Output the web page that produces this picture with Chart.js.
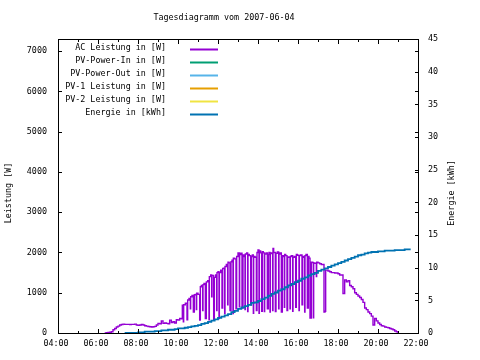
<!DOCTYPE html>
<html><head><meta charset="utf-8">
<script src="https://cdn.jsdelivr.net/npm/chart.js@4"></script>
<style>html,body{margin:0;padding:0;background:#fff}canvas{display:block}</style>
</head><body>
<canvas id="c" width="480" height="360"></canvas>
<script>
const chartTitle = 'Tagesdiagramm vom 2007-06-04';
const leftAxisTitle = 'Leistung [W]';
const rightAxisTitle = 'Energie [kWh]';
const seriesLabels = ['AC Leistung in [W]', 'PV-Power-In in [W]', 'PV-Power-Out in [W]', 'PV-1 Leistung in [W]', 'PV-2 Leistung in [W]', 'Energie in [kWh]'];
const seriesColors = ['#9400d3', '#009e73', '#56b4e9', '#e69f00', '#f0e442', '#0072b2'];
const xTickHours = [4, 6, 8, 10, 12, 14, 16, 18, 20, 22];
const xTickLabels = ['04:00', '06:00', '08:00', '10:00', '12:00', '14:00', '16:00', '18:00', '20:00', '22:00'];
const yTicks = [0, 1000, 2000, 3000, 4000, 5000, 6000, 7000];
const y2Ticks = [0, 5, 10, 15, 20, 25, 30, 35, 40, 45];

// AC power samples (time of day, watts)
const acTimes = [
'06:20','06:25','06:30','06:35','06:40','06:45','06:50','06:55',
'07:00','07:05','07:10','07:15','07:20','07:25','07:30','07:35','07:40','07:45','07:50','07:55',
'08:00','08:05','08:10','08:15','08:20','08:25','08:30','08:35','08:40','08:45','08:50','08:55',
'09:00','09:05','09:10','09:15','09:20','09:25','09:30','09:35','09:40','09:45','09:50','09:55',
'10:00','10:05','10:10','10:13','10:16','10:17','10:22','10:27','10:29','10:33','10:37','10:38','10:42','10:46','10:49','10:52','10:55','10:56',
'11:00','11:05','11:07','11:10','11:14','11:15','11:18','11:22','11:25','11:29','11:33','11:34','11:38','11:41','11:42','11:47','11:49','11:53','11:56','11:57',
'12:00','12:03','12:04','12:08','12:12','12:14','12:17','12:20','12:21','12:25','12:29','12:30','12:33','12:36','12:39','12:42','12:45','12:46','12:50','12:54','12:56',
'13:00','13:04','13:05','13:08','13:12','13:15','13:18','13:21','13:22','13:26','13:29','13:30','13:34','13:38','13:40','13:43','13:46','13:47','13:51','13:55','13:57',
'14:00','14:03','14:04','14:08','14:11','14:13','14:16','14:19','14:20','14:24','14:28','14:31','14:33','14:36','14:37','14:41','14:44','14:45','14:47','14:52','14:54','14:58',
'15:02','15:03','15:06','15:10','15:13','15:16','15:19','15:20','15:23','15:27','15:29','15:32','15:36','15:37','15:40','15:44','15:45','15:49','15:53','15:55','15:58',
'16:03','16:04','16:08','16:12','16:14','16:17','16:20','16:21','16:24','16:28','16:31','16:33','16:36','16:40','16:43','16:46','16:47','16:51','16:55','16:56',
'17:00','17:05','17:10','17:15','17:18','17:21','17:23','17:25','17:30','17:35','17:40','17:45','17:50','17:55',
'18:00','18:05','18:10','18:15','18:20','18:25','18:30','18:35','18:40','18:45','18:50','18:55',
'19:00','19:05','19:10','19:15','19:20','19:25','19:30','19:35','19:40','19:45','19:50','19:55',
'20:00','20:05','20:10','20:15','20:20','20:25','20:30','20:35','20:40','20:45','20:50','20:55',
'21:00'];
const acPower = [
0, 10, 15, 20, 30, 80, 110, 150,
170, 200, 210, 220, 215, 215, 215, 210, 215, 215, 220, 200,
190, 200, 215, 200, 180, 170, 160, 155, 150, 155, 165, 200,
240, 230, 300, 240, 250, 240, 230, 320, 260, 280, 250, 330,
320, 360, 350, 690, 280, 700, 740, 330, 820, 860, 600, 900, 930, 520, 950, 960, 580, 990,
960, 320, 1150, 1180, 560, 1200, 1230, 360, 1270, 1300, 330, 1400, 1440, 900, 1430, 330, 1380, 1440, 560, 1500,
1520, 360, 1500, 1560, 620, 1600, 1610, 480, 1650, 1700, 700, 1760, 1740, 560, 1770, 1810, 480, 1860, 1840, 600, 1900,
1990, 650, 1950, 1980, 620, 1940, 1900, 580, 1960, 1990, 530, 1950, 1920, 700, 1900, 1940, 490, 1900, 1880, 560, 2000,
2060, 490, 2040, 1990, 540, 2020, 1990, 530, 1960, 1990, 600, 1950, 2000, 520, 1990, 1970, 560, 2100, 2000, 530, 1980, 2010,
600, 1960, 1990, 520, 1920, 1900, 640, 1950, 1920, 560, 1890, 1880, 600, 1900, 1920, 540, 1880, 1900, 640, 1950, 1930,
560, 1920, 1940, 700, 1900, 1880, 520, 1920, 1950, 620, 1900, 1860, 370, 1760, 1750, 380, 1740, 1730, 1400, 1760,
1740, 1720, 1700, 1700, 520, 540, 1560, 1560, 1540, 1520, 1500, 1500, 1490, 1490,
1470, 1440, 1440, 980, 1320, 1270, 1300, 1180, 1150, 1100, 1000, 960,
920, 880, 830, 760, 620, 580, 520, 480, 420, 200, 360, 300,
250, 210, 180, 170, 150, 140, 130, 110, 100, 80, 50, 30,
0];

// Cumulative energy samples (time of day, kWh)
const energyTimes = [
'07:20','07:30','07:40','07:50','08:00','08:10','08:20','08:30','08:40','08:50',
'09:00','09:10','09:20','09:30','09:40','09:50','10:00','10:10','10:20','10:30','10:40','10:50',
'11:00','11:10','11:20','11:30','11:40','11:50','12:00','12:10','12:20','12:30','12:40','12:50',
'13:00','13:10','13:20','13:30','13:40','13:50','14:00','14:10','14:20','14:30','14:40','14:50',
'15:00','15:10','15:20','15:30','15:40','15:50','16:00','16:10','16:20','16:30','16:40','16:50',
'17:00','17:10','17:20','17:30','17:40','17:50','18:00','18:10','18:20','18:30','18:40','18:50',
'19:00','19:10','19:20','19:30','19:40','19:50','20:00','20:10','20:20','20:30','20:40','20:50',
'21:00','21:10','21:20','21:30','21:38'];
const energyKWh = [
0.0, 0.0, 0.0, 0.0, 0.1, 0.1, 0.2, 0.2, 0.2, 0.3,
0.3, 0.4, 0.4, 0.5, 0.5, 0.6, 0.7, 0.7, 0.8, 0.9, 1.0, 1.1,
1.2, 1.4, 1.5, 1.7, 1.9, 2.1, 2.3, 2.5, 2.7, 2.9, 3.2, 3.4,
3.7, 3.9, 4.1, 4.3, 4.6, 4.7, 4.9, 5.2, 5.4, 5.7, 6.0, 6.2,
6.5, 6.7, 7.0, 7.3, 7.5, 7.8, 8.0, 8.3, 8.5, 8.8, 9.0, 9.2,
9.5, 9.7, 9.9, 10.1, 10.3, 10.5, 10.7, 10.9, 11.1, 11.3, 11.5, 11.7,
11.9, 12.0, 12.2, 12.3, 12.4, 12.4, 12.5, 12.5, 12.6, 12.6, 12.6, 12.7,
12.7, 12.7, 12.8, 12.8, 12.8];

const toHours = t => { const [h, m] = t.split(':').map(Number); return h + m / 60; };
const pts = (times, vals) => times.map((t, i) => ({x: toHours(t), y: vals[i]}));

const FONT_FAMILY = '"DejaVu Sans Mono", "Liberation Mono", monospace';
const FONT_SIZE = 8.4;
const tickFont = {family: FONT_FAMILY, size: FONT_SIZE};

const gnuFrame = {
  id: 'gnuFrame',
  afterDatasetsDraw(chart) {
    const {ctx, chartArea: a, scales} = chart;
    const x = scales.x, y = scales.y, y2 = scales.y2;
    ctx.save();
    ctx.strokeStyle = '#000';
    ctx.lineWidth = 1;
    ctx.strokeRect(a.left + 0.5, a.top + 0.5, a.right - a.left, a.bottom - a.top);
    ctx.beginPath();
    for (let h = xTickHours[0]; h <= xTickHours[xTickHours.length - 1]; h++) {
      const px = Math.round(x.getPixelForValue(h)) + 0.5;
      const len = xTickHours.includes(h) ? 4 : 2;
      ctx.moveTo(px, a.bottom); ctx.lineTo(px, a.bottom - len);
      ctx.moveTo(px, a.top + 1); ctx.lineTo(px, a.top + 1 + len);
    }
    yTicks.forEach(v => {
      const py = Math.round(y.getPixelForValue(v)) + 0.5;
      ctx.moveTo(a.left + 1, py); ctx.lineTo(a.left + 4, py);
      ctx.moveTo(a.right, py); ctx.lineTo(a.right - 3, py);
    });
    y2Ticks.forEach(v => {
      const py = Math.round(y2.getPixelForValue(v)) + 0.5;
      ctx.moveTo(a.right, py); ctx.lineTo(a.right - 3, py);
    });
    ctx.stroke();
    ctx.restore();
  },
  afterDraw(chart) {
    const {ctx} = chart;
    ctx.save();
    ctx.fillStyle = '#000';
    ctx.font = FONT_SIZE + 'px ' + FONT_FAMILY;
    ctx.textBaseline = 'middle';
    ctx.textAlign = 'center';
    ctx.fillText(chartTitle, 224, 18);
    ctx.save();
    ctx.translate(9, 193); ctx.rotate(-Math.PI / 2);
    ctx.fillText(leftAxisTitle, 0, 0);
    ctx.restore();
    ctx.save();
    ctx.translate(452, 193); ctx.rotate(-Math.PI / 2);
    ctx.fillText(rightAxisTitle, 0, 0);
    ctx.restore();
    ctx.textAlign = 'right';
    chart.data.datasets.forEach((ds, i) => {
      const ty = 47.5 + i * 13;
      ctx.fillStyle = '#000';
      ctx.fillText(ds.label, 166, ty);
      ctx.strokeStyle = ds.borderColor;
      ctx.lineWidth = 2;
      ctx.beginPath();
      ctx.moveTo(190, ty + 2); ctx.lineTo(218, ty + 2);
      ctx.stroke();
    });
    ctx.restore();
  }
};

const lineDs = (i, data, axis, order, width) => ({
  label: seriesLabels[i], data, yAxisID: axis, borderColor: seriesColors[i], backgroundColor: seriesColors[i],
  borderWidth: width, pointRadius: 0, stepped: true, fill: false, order
});

new Chart(document.getElementById('c'), {
  type: 'line',
  data: {
    datasets: [
      lineDs(0, pts(acTimes, acPower), 'y', 1, 1.4),
      lineDs(1, [], 'y', 1, 2),
      lineDs(2, [], 'y', 1, 2),
      lineDs(3, [], 'y', 1, 2),
      lineDs(4, [], 'y', 1, 2),
      lineDs(5, pts(energyTimes, energyKWh), 'y2', 0, 1.8)
    ]
  },
  options: {
    responsive: false,
    animation: false,
    devicePixelRatio: 1,
    layout: {padding: {top: 39, left: 0, right: 0, bottom: 0}},
    plugins: {legend: {display: false}, title: {display: false}, tooltip: {enabled: false}},
    scales: {
      x: {
        type: 'linear', position: 'bottom', min: 4, max: 22,
        afterFit(s) { s.height = 27; },
        afterBuildTicks(s) { s.ticks = xTickHours.map(v => ({value: v})); },
        grid: {display: false, drawTicks: false}, border: {display: false},
        ticks: {autoSkip: false, maxRotation: 0, padding: 6, labelOffset: -2, color: '#000', font: tickFont,
          callback: v => xTickLabels[xTickHours.indexOf(v)]}
      },
      y: {
        type: 'linear', position: 'left', min: 0, max: 7300,
        afterFit(s) { s.width = 58; },
        afterBuildTicks(s) { s.ticks = yTicks.map(v => ({value: v})); },
        grid: {display: false, drawTicks: false}, border: {display: false},
        ticks: {autoSkip: false, padding: 11, color: '#000', font: tickFont, callback: v => String(v)}
      },
      y2: {
        type: 'linear', position: 'right', min: 0, max: 45,
        afterFit(s) { s.width = 62; },
        afterBuildTicks(s) { s.ticks = y2Ticks.map(v => ({value: v})); },
        grid: {display: false, drawTicks: false}, border: {display: false},
        ticks: {autoSkip: false, padding: 10, color: '#000', font: tickFont, callback: v => String(v)}
      }
    }
  },
  plugins: [gnuFrame]
});
</script>
</body></html>
